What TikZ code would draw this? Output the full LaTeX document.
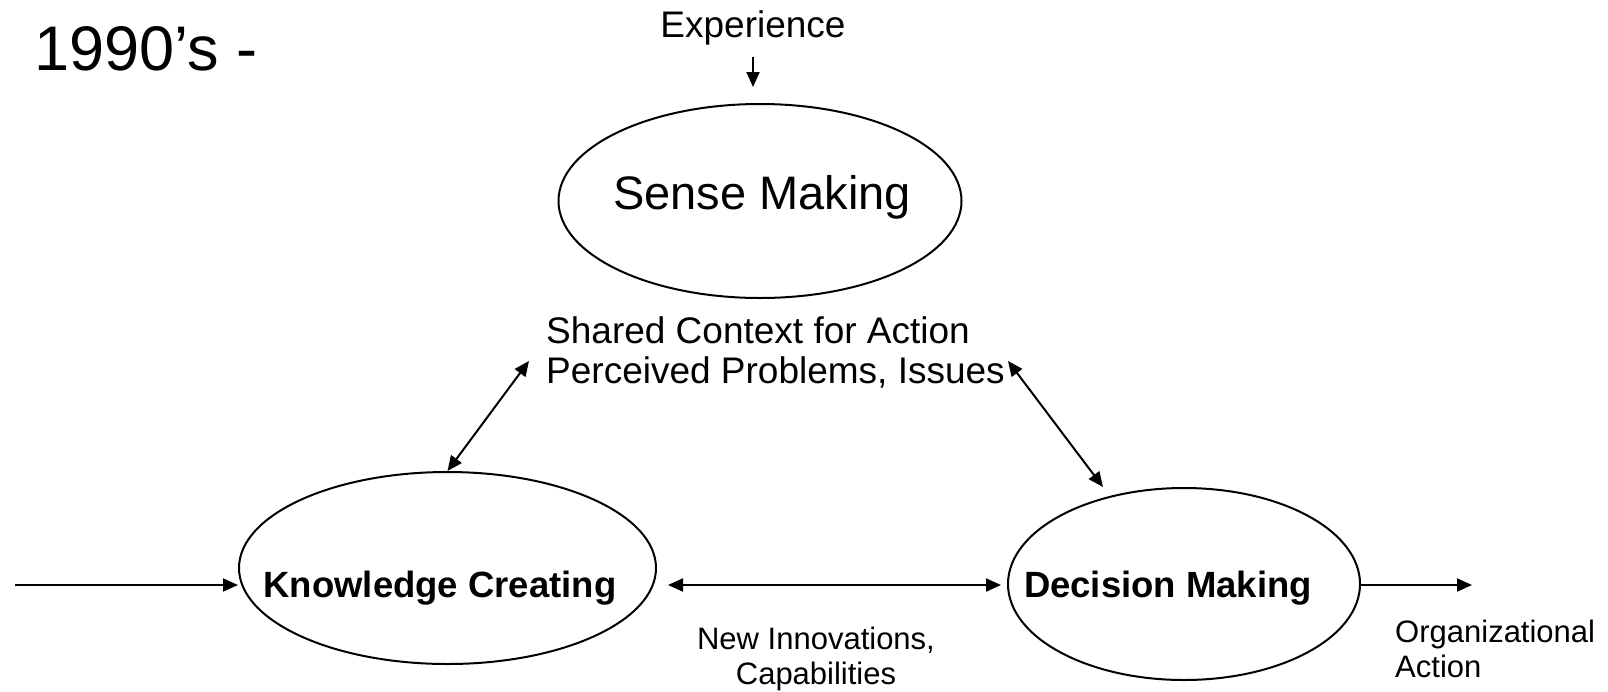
\documentclass[tikz,border=0pt]{standalone}
\usepackage{fontspec}
\setmainfont{Liberation Sans}
\usetikzlibrary{arrows.meta,shapes.geometric}

\tikzset{
  blob/.style={draw, ellipse, line width=2pt, inner sep=0pt},
  bodytext/.style={font=\fontsize{37}{40}\selectfont, inner sep=0pt},
  notetext/.style={font=\fontsize{31}{35}\selectfont, inner sep=0pt},
  nametext/.style={font=\fontsize{36.5}{40}\selectfont\bfseries, inner sep=0pt},
  link/.style={line width=2pt, -{Triangle[length=15pt,width=13pt]}},
  twoway/.style={line width=2pt, {Triangle[length=15pt,width=13pt]}-{Triangle[length=15pt,width=13pt]}}
}

\begin{document}
\begin{tikzpicture}[x=1pt,y=-1pt]
\useasboundingbox (0,0) rectangle (1608,691);
\node[anchor=base west, inner sep=0pt, font=\fontsize{63}{70}\selectfont] (era) at (34,70) {1990’s -};
\node[bodytext, anchor=base] (exp) at (753,37) {Experience};
\node[blob, minimum width=403pt, minimum height=194pt] (sm) at (760,201) {};
\node[inner sep=0pt, font=\fontsize{47}{52}\selectfont] (smname) at (762,197) {Sense Making};
\node[bodytext, anchor=north west, align=left] (ctx) at (546,316) {Shared Context for Action\\Perceived Problems, Issues};
\node[blob, minimum width=417pt, minimum height=192pt] (kc) at (447.5,568) {};
\node[nametext] (kcname) at (440,588) {Knowledge Creating};
\node[blob, minimum width=352pt, minimum height=192pt] (dm) at (1184,584) {};
\node[nametext] (dmname) at (1168,588) {Decision Making};
\node[notetext, anchor=north, align=center] (novel) at (816,627) {New Innovations,\\Capabilities};
\node[notetext, anchor=north west, align=left] (orgact) at (1395,620) {Organizational\\Action};
\coordinate (src) at (15,585);
\coordinate (out) at (1472,585);

\draw[link, shorten <=12pt, shorten >=16pt] (exp.south) -- (exp.south |- sm.north);
\draw[twoway] (kc.north) -- ([shift={(-17,9)}]ctx.west);
\draw[twoway] ([shift={(3,9)}]ctx.east) -- ([xshift=-81pt]dm.north);
\draw[link] (src) -- (src -| kc.west);
\draw[twoway, shorten <=11pt, shorten >=6pt] (kc.east |- src) -- (dm.west |- src);
\draw[link] (dm.east |- out) -- (out);
\end{tikzpicture}
\end{document}
